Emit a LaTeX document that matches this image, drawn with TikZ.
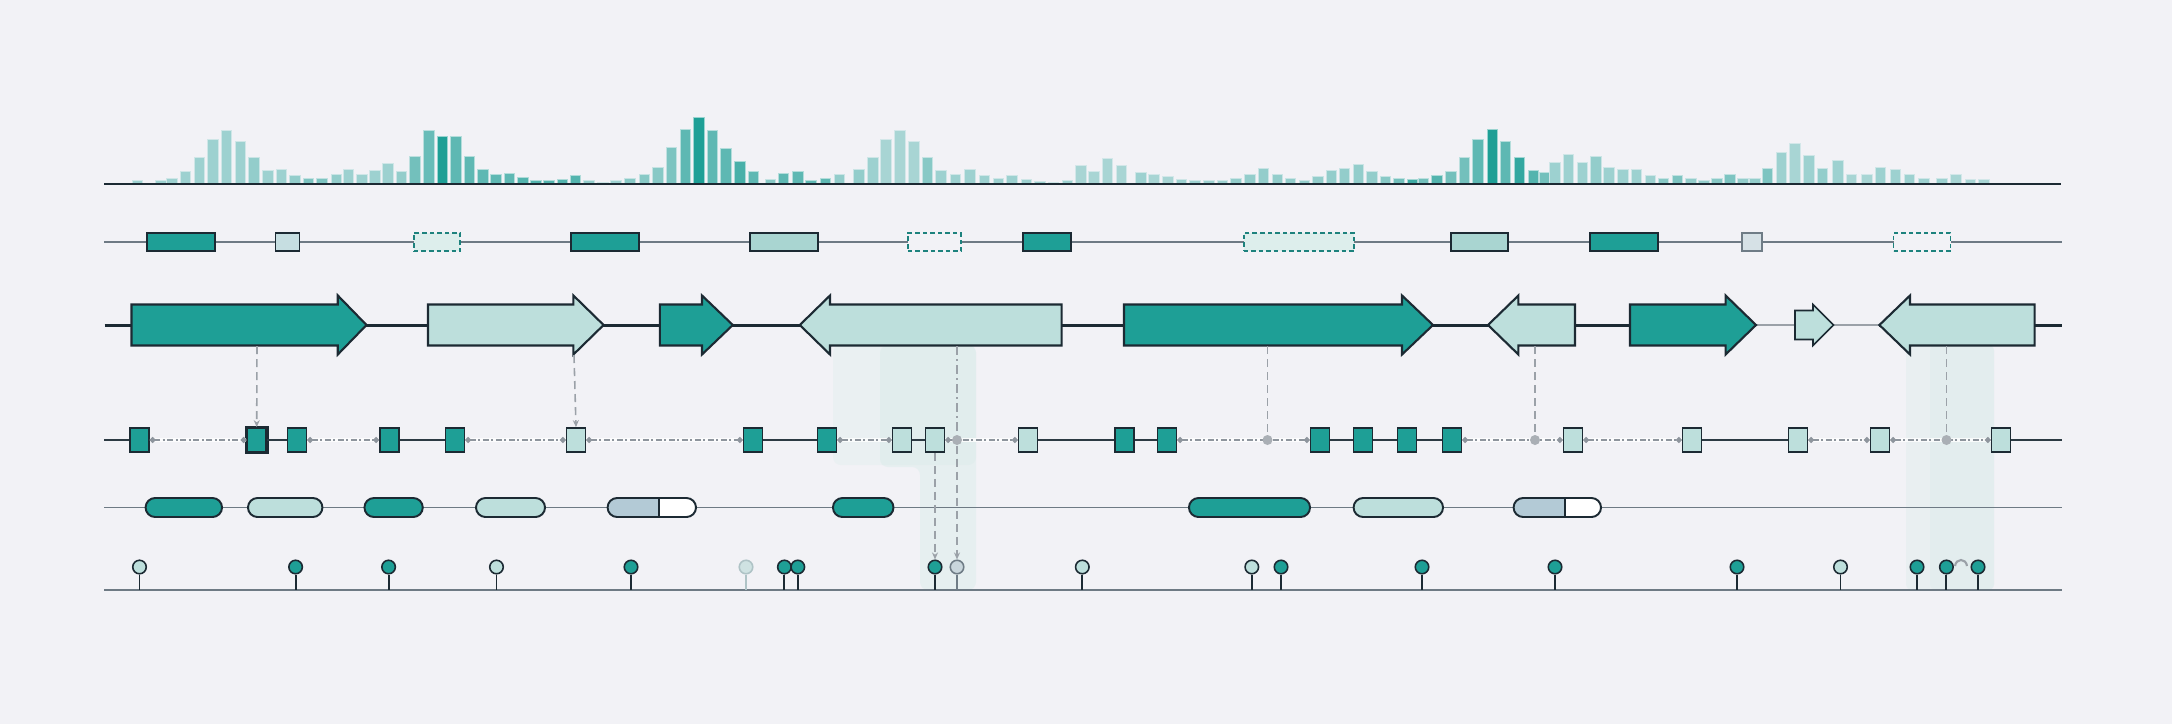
\documentclass[tikz,border=0pt]{standalone}
\usetikzlibrary{arrows.meta,shapes.misc,calc}
\definecolor{bgc}{HTML}{F2F2F6}
\definecolor{tl}{HTML}{1E9F96}
\definecolor{ltl}{HTML}{BDDFDC}
\definecolor{mtl}{HTML}{A9D5D1}
\definecolor{vlt}{HTML}{DDEEEC}
\definecolor{lbox}{HTML}{C6DEE1}
\definecolor{sgray}{HTML}{D6E1E6}
\definecolor{ink}{HTML}{1C2A33}
\definecolor{rowg}{HTML}{6E7A84}
\definecolor{cng}{HTML}{9BA1A8}
\definecolor{dotg}{HTML}{8E959D}
\definecolor{hl}{HTML}{CFE9E5}
\definecolor{bgray}{HTML}{B3CAD6}
\definecolor{fadef}{HTML}{CFE2E2}
\definecolor{fadeb}{HTML}{AFC3C6}
\definecolor{grayf}{HTML}{C9D6DC}
\definecolor{grayb}{HTML}{6F7C86}
\newcommand{\garR}[4]{\draw[arw,#4] (#1,304.5) -- (#2,304.5) -- (#2,295.5) -- (#3,325) -- (#2,354.5) -- (#2,345.5) -- (#1,345.5) -- cycle;}
\newcommand{\garL}[4]{\draw[arw,#4] (#3,304.5) -- (#2,304.5) -- (#2,295.5) -- (#1,325) -- (#2,354.5) -- (#2,345.5) -- (#3,345.5) -- cycle;}
\begin{document}
\begin{tikzpicture}[x=0.01cm,y=-0.01cm,
  rowline/.style={draw=rowg, line width=0.5pt},
  exon/.style={rectangle, draw=ink, line width=0.5pt, minimum height=0.18cm, inner sep=0pt},
  dexon/.style={rectangle, draw=tl!75!ink, line width=0.5pt, dash pattern=on 0.045cm off 0.03cm, minimum height=0.18cm, inner sep=0pt},
  arw/.style={draw=ink, line width=0.6pt, line join=miter},
  sq/.style={rectangle, draw=ink, line width=0.5pt, minimum width=0.19cm, minimum height=0.24cm, inner sep=0pt},
  pill/.style={rounded rectangle, draw=ink, line width=0.55pt, minimum height=0.19cm, inner sep=0pt},
  lol/.style={circle, line width=0.45pt, minimum size=0.135cm, inner sep=0pt},
  stem/.style={draw=ink, line width=0.55pt},
  intronbg/.style={draw=white, line width=1.4pt, opacity=0.8},
  intron/.style={draw=dotg, line width=0.65pt, dash pattern=on 0.06cm off 0.025cm on 0.02cm off 0.025cm, {Circle[length=0.055cm]}-{Circle[length=0.055cm]}},
  vconn/.style={draw=cng, line width=0.45pt, dash pattern=on 0.08cm off 0.05cm},
  vtip/.style={-{Stealth[length=0.07cm,width=0.06cm]}},
  jdot/.style={circle, fill=cng!85!white, minimum size=0.1cm, inner sep=0pt}
]
\fill[bgc] (0,0) rectangle (2172,724);
\useasboundingbox (0,0) rectangle (2172,724);

% highlight bands
\fill[hl, opacity=0.22, rounded corners=0.08cm] (833,345) rectangle (976,465);
\fill[hl, opacity=0.32, rounded corners=0.08cm] (880,345) -- (976,345) -- (976,590) -- (920,590) -- (920,467) -- (880,467) -- cycle;
\fill[hl, opacity=0.25, rounded corners=0.06cm] (1906,345) rectangle (1994,590);
\fill[hl, opacity=0.22, rounded corners=0.06cm] (1930,345) rectangle (1994,590);

% ---- row 1: coverage histogram
\foreach \x/\h/\o in {132.4/4/40,145.5/1/40,155.5/4/40,166.8/6/40,180.2/13/40,194.0/27/40,207.9/45/40,221.3/54/40,235.1/43/40,248.9/27/45,262.8/14/40,276.2/15/40,289.6/9/45,303.4/6/55,316.8/6/55,331.1/10/45,343.1/15/40,356.5/10/40,369.5/14/40,382.9/21/40,396.3/13/45,409.6/28/60,423.9/54/65,437.3/48/100,450.7/48/70,464.1/28/70,477.5/15/70,490.9/10/70,504.3/11/70,517.7/7/75,530.6/4/75,543.6/4/75,557.0/5/75,570.4/9/75,583.8/4/45,597.6/2/40,610.5/4/40,624.8/6/50,639.1/10/50,652.5/17/50,666.3/37/55,680.2/55/70,693.6/67/100,707.4/54/70,720.8/36/70,734.6/23/80,748.0/13/70,765.0/5/50,778.0/11/70,
792.5/13/70,805.9/4/70,820.2/6/70,834.0/10/45,853.7/15/45,867.5/27/40,880.9/45/35,894.7/54/35,908.6/43/35,922.4/27/50,935.8/14/40,950.1/10/40,964.8/15/40,979.1/9/40,993.0/6/40,1006.8/9/40,1021.1/5/40,1034.9/3/40,1048.3/2/40,1062.1/4/40,1075.5/19/35,1088.9/13/35,1102.3/26/35,1116.2/19/35,1135.8/12/40,1148.8/10/35,1162.6/8/35,1176.4/5/40,1189.8/4/40,1203.7/4/40,1217.1/4/40,1230.9/6/45,1244.7/10/45,1258.1/16/45,1272.0/10/45,1285.4/6/45,1299.2/4/45,1312.6/8/45,1326.0/14/45,1339.4/16/45,1353.2/20/45,1366.6/13/45,1380.4/8/50,1393.8/6/60,1407.2/5/85,1418.4/6/60,1431.8/9/75,1445.6/13/60,1459.0/27/60,1472.8/45/70,
1487.0/55/100,1500.4/43/70,1514.2/27/90,1528.0/14/75,1539.5/12/60,1549.5/22/40,1563.3/30/40,1577.1/22/40,1590.5/28/45,1603.9/17/40,1617.8/15/40,1631.2/15/40,1645.0/9/40,1658.4/6/50,1672.2/9/55,1685.6/6/45,1698.6/4/45,1711.5/6/50,1724.5/10/55,1737.9/6/45,1749.5/6/45,1762.4/16/55,1776.3/32/40,1789.6/41/35,1803.5/29/40,1817.3/16/45,1832.5/24/40,1846.3/10/35,1861.5/10/35,1875.4/17/40,1890.1/15/40,1904.4/10/40,1918.7/6/40,1936.5/6/40,1950.8/10/35,1965.1/5/35,1978.5/5/35}
  { \filldraw[fill=tl!\o!bgc, draw=white!55!tl!\o!bgc, line width=0.25pt] (\x,184) rectangle ++(10.5,-\h); }
\coordinate (h1s) at (104,184);
\coordinate (h1e) at (2061,184);
\draw[ink, line width=0.75pt] (h1s) -- (h1e);

% ---- row 2: exon track
\coordinate (r2s) at (104,242);
\coordinate (r2e) at (2062,242);
\draw[rowline] (r2s) -- (r2e);
\node[exon, fill=tl, minimum width=0.68cm] (x1) at (181,242) {};
\node[exon, fill=lbox, minimum width=0.24cm] (x2) at (287.5,242) {};
\node[dexon, fill=vlt, minimum width=0.46cm] (x3) at (437,242) {};
\node[exon, fill=tl, minimum width=0.68cm] (x4) at (605,242) {};
\node[exon, fill=mtl, minimum width=0.68cm] (x5) at (783.7,242) {};
\node[dexon, fill=bgc, minimum width=0.53cm] (x6) at (934.5,242) {};
\node[exon, fill=tl, minimum width=0.48cm] (x7) at (1046.9,242) {};
\node[dexon, fill=vlt, minimum width=1.10cm] (x8) at (1299,242) {};
\node[exon, fill=mtl, minimum width=0.57cm] (x9) at (1479.4,242) {};
\node[exon, fill=tl, minimum width=0.68cm] (x10) at (1624.3,242) {};
\node[exon, fill=sgray, draw=grayb, minimum width=0.20cm] (x11) at (1752,242) {};
\node[dexon, fill=bgc, minimum width=0.57cm] (x12) at (1922,242) {};

% ---- row 3: gene arrows
\coordinate (r3s) at (104.7,325);
\coordinate (r3m) at (1756,325);
\coordinate (r3n) at (1879.4,325);
\coordinate (r3e) at (2062,325);
\draw[ink, line width=0.85pt] (r3s) -- (r3m);
\draw[cng, line width=0.5pt] (r3m) -- (r3n);
\draw[ink, line width=0.85pt] (r3n) -- (r3e);
\garR{131.5}{337.8}{366.5}{fill=tl}
\garR{428}{573.4}{603.6}{fill=ltl}
\garR{659.8}{702}{732.8}{fill=tl}
\garL{799.8}{830}{1061.6}{fill=ltl}
\garR{1124}{1402}{1433}{fill=tl}
\garL{1488}{1518.4}{1575}{fill=ltl}
\garR{1630}{1725.6}{1756}{fill=tl}
\draw[arw, line width=0.45pt, fill=ltl] (1795,310.5) -- (1813,310.5) -- (1813,304.5) -- (1833.6,325) -- (1813,345.5) -- (1813,339.5) -- (1795,339.5) -- cycle;
\garL{1879.4}{1910}{2034.6}{fill=ltl}
\coordinate (a1) at (257,346);
\coordinate (a2) at (574,355);
\coordinate (a4) at (957,346);
\coordinate (a5) at (1267.5,346);
\coordinate (a6) at (1535,346);
\coordinate (a9) at (1946.5,346);

% ---- row 4: transcript blocks
\coordinate (r4s) at (104,440);
\coordinate (r4e) at (2062,440);
\foreach \x/\f [count=\i] in {139.5/tl,256.7/tl,297/tl,389.3/tl,455/tl,576/ltl,753/tl,827/tl,902/ltl,935/ltl,1028/ltl,1124.5/tl,1167/tl,1320/tl,1363/tl,1407/tl,1452/tl,1573/ltl,1692/ltl,1798/ltl,1880/ltl,2001/ltl}
  { \node[sq, fill=\f] (e\i) at (\x,440) {}; }
\draw[ink, line width=0.9pt] (e2.south west) rectangle (e2.north east);
\draw[rowline, draw=ink!80!rowg, line width=0.5pt] (r4s) -- (e1) (e2) -- (e3) (e4) -- (e5) (e7) -- (e8) (e9) -- (e10) (e11) -- (e12) (e12) -- (e13) (e14) -- (e15) (e15) -- (e16) (e16) -- (e17) (e19) -- (e20) (e22) -- (r4e);
\foreach \a/\b in {e1/e2,e3/e4,e5/e6,e6/e7,e8/e9,e10/e11,e13/e14,e17/e18,e18/e19,e20/e21,e21/e22}
  { \draw[intronbg] (\a) -- (\b);
    \draw[intron] (\a) -- (\b); }

% ---- row 5: domains
\coordinate (r5s) at (104,507.5);
\coordinate (r5e) at (2062,507.5);
\draw[rowline] (r5s) -- (r5e);
\node[pill, fill=tl, minimum width=0.764cm] (p1) at (183.8,507.5) {};
\node[pill, fill=ltl, minimum width=0.744cm] (p2) at (285.2,507.5) {};
\node[pill, fill=tl, minimum width=0.583cm] (p3) at (393.6,507.5) {};
\node[pill, fill=ltl, minimum width=0.69cm] (p4) at (510.5,507.5) {};
\node[pill, fill=bgray, rounded rectangle right arc=none, minimum width=0.514cm] (p5a) at (633.3,507.5) {};
\node[pill, fill=white, rounded rectangle left arc=none, minimum width=0.37cm] (p5b) at (677.5,507.5) {};
\node[pill, fill=tl, minimum width=0.605cm] (p6) at (863.2,507.5) {};
\node[pill, fill=tl, minimum width=1.21cm] (p7) at (1249.5,507.5) {};
\node[pill, fill=ltl, minimum width=0.894cm] (p8) at (1398.3,507.5) {};
\node[pill, fill=bgray, rounded rectangle right arc=none, minimum width=0.514cm] (p9a) at (1539.3,507.5) {};
\node[pill, fill=white, rounded rectangle left arc=none, minimum width=0.36cm] (p9b) at (1583,507.5) {};

% ---- row 6: variants
\coordinate (r6s) at (104,590);
\coordinate (r6e) at (2062,590);
\draw[rowline, line width=0.55pt] (r6s) -- (r6e);
\foreach \x/\f/\d [count=\i] in {139.5/ltl/ink,295.6/tl/ink,388.6/tl/ink,496.5/ltl/ink,631/tl/ink,746/fadef/fadeb,784.4/tl/ink,797.8/tl/ink,935/tl/ink,957/grayf/grayb,1082.3/ltl/ink,1251.8/ltl/ink,1281/tl/ink,1422/tl/ink,1555/tl/ink,1737/tl/ink,1840.5/ltl/ink,1917/tl/ink,1946.4/tl/ink,1978/tl/ink}
  { \node[lol, fill=\f, draw=\d] (l\i) at (\x,567) {};
    \draw[stem, draw=\d] (l\i.south) -- (l\i.south |- r6s); }
\draw[cng, line width=0.6pt] (1955,566) .. controls (1956,558) and (1966,558) .. (1967,566);

% ---- vertical connectors
\draw[vconn, vtip] (a1) -- (e2.north);
\draw[vconn, vtip] (a2) -- (e6.north);
\node[jdot] (j1) at (957,440) {};
\node[jdot] (j2) at (1267.5,440) {};
\node[jdot] (j3) at (1535,440) {};
\node[jdot] (j4) at (1946.5,440) {};
\draw[vconn, dash pattern=on 0.09cm off 0.04cm on 0.02cm off 0.04cm] (a4) -- (j1);
\draw[vconn, vtip] (j1) -- (l10.north);
\draw[vconn, vtip] (e10.south) -- (l9.north);
\draw[vconn] (a5) -- (j2);
\draw[vconn] (a6) -- (j3);
\draw[vconn] (a9) -- (j4);
\end{tikzpicture}
\end{document}
